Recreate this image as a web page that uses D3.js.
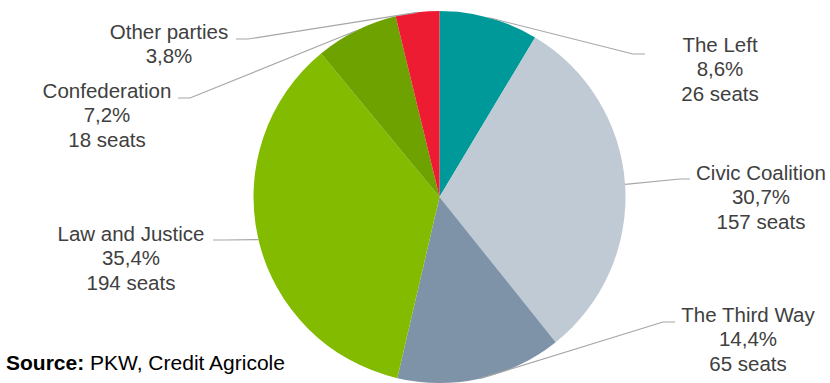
<!DOCTYPE html>
<html>
<head>
<meta charset="utf-8">
<script src="https://cdn.jsdelivr.net/npm/d3@7"></script>
<style>
  html, body { margin: 0; padding: 0; background: #fff; }
  #chart { width: 830px; height: 383px; }
  svg { display: block; font-family: "Liberation Sans", Arial, sans-serif; }
</style>
</head>
<body>
<div id="chart"></div>
<script>
// data, clockwise from 12 o'clock
var parties = ["The Left", "Civic Coalition", "The Third Way", "Law and Justice", "Confederation", "Other parties"];
var shares = [8.6, 30.7, 14.4, 35.4, 7.2, 3.8];
var seats = [26, 157, 65, 194, 18, null];
var colors = ["#009999", "#bfcad5", "#7f93a8", "#82bb00", "#6ea200", "#ed1c33"];

// label layout: centre x, first baseline, elbow point of the leader line
var labelPos = [
    { x: 720, y: 52, lx: 645, ly: 54, ex: 633 },
    { x: 761, y: 180, lx: 690, ly: 179, ex: 680 },
    { x: 748, y: 322, lx: 675, ly: 322, ex: 663 },
    { x: 131, y: 241, lx: 213, ly: 240, ex: 225 },
    { x: 107, y: 98, lx: 178, ly: 98, ex: 190 },
    { x: 169, y: 39, lx: 236, ly: 39, ex: 248 }
];

var width = 830, height = 383,
    cx = 439.5, cy = 197, radius = 186;

var svg = d3.select("#chart").append("svg")
    .attr("width", width)
    .attr("height", height);

var pie = d3.pie()
    .sort(null)
    .value(function (d) { return d; });

var arc = d3.arc()
    .innerRadius(0)
    .outerRadius(radius);

var arcs = pie(shares);

var g = svg.append("g")
    .attr("transform", "translate(" + cx + "," + cy + ")");

g.selectAll("path")
    .data(arcs)
    .enter().append("path")
    .attr("d", arc)
    .attr("fill", function (d) { return colors[d.index]; });

// leader lines
svg.selectAll(".leader")
    .data(arcs)
    .enter().append("polyline")
    .attr("class", "leader")
    .attr("fill", "none")
    .attr("stroke", "#a6a6a6")
    .attr("stroke-width", 1.2)
    .attr("points", function (d) {
        var a = (d.startAngle + d.endAngle) / 2;
        var px = cx + radius * Math.sin(a),
            py = cy - radius * Math.cos(a);
        var p = labelPos[d.index];
        return [[px, py], [p.ex, p.ly], [p.lx, p.ly]].join(" ");
    });

// labels
var lbl = svg.selectAll(".lbl")
    .data(arcs)
    .enter().append("text")
    .attr("class", "lbl")
    .attr("text-anchor", "middle")
    .attr("font-size", "20.5px")
    .attr("fill", "#404040");

lbl.each(function (d) {
    var p = labelPos[d.index];
    var lines = [parties[d.index], String(shares[d.index]).replace(".", ",") + "%"];
    if (seats[d.index] != null) lines.push(seats[d.index] + " seats");
    d3.select(this).selectAll("tspan")
        .data(lines)
        .enter().append("tspan")
        .attr("x", p.x)
        .attr("y", function (t, i) { return p.y + i * 24.4; })
        .text(function (t) { return t; });
});

var src = svg.append("text")
    .attr("x", 6)
    .attr("y", 370)
    .attr("font-size", "21px")
    .attr("fill", "#000");
src.append("tspan").attr("font-weight", "bold").text("Source:");
src.append("tspan").text(" PKW, Credit Agricole");
</script>
</body>
</html>
